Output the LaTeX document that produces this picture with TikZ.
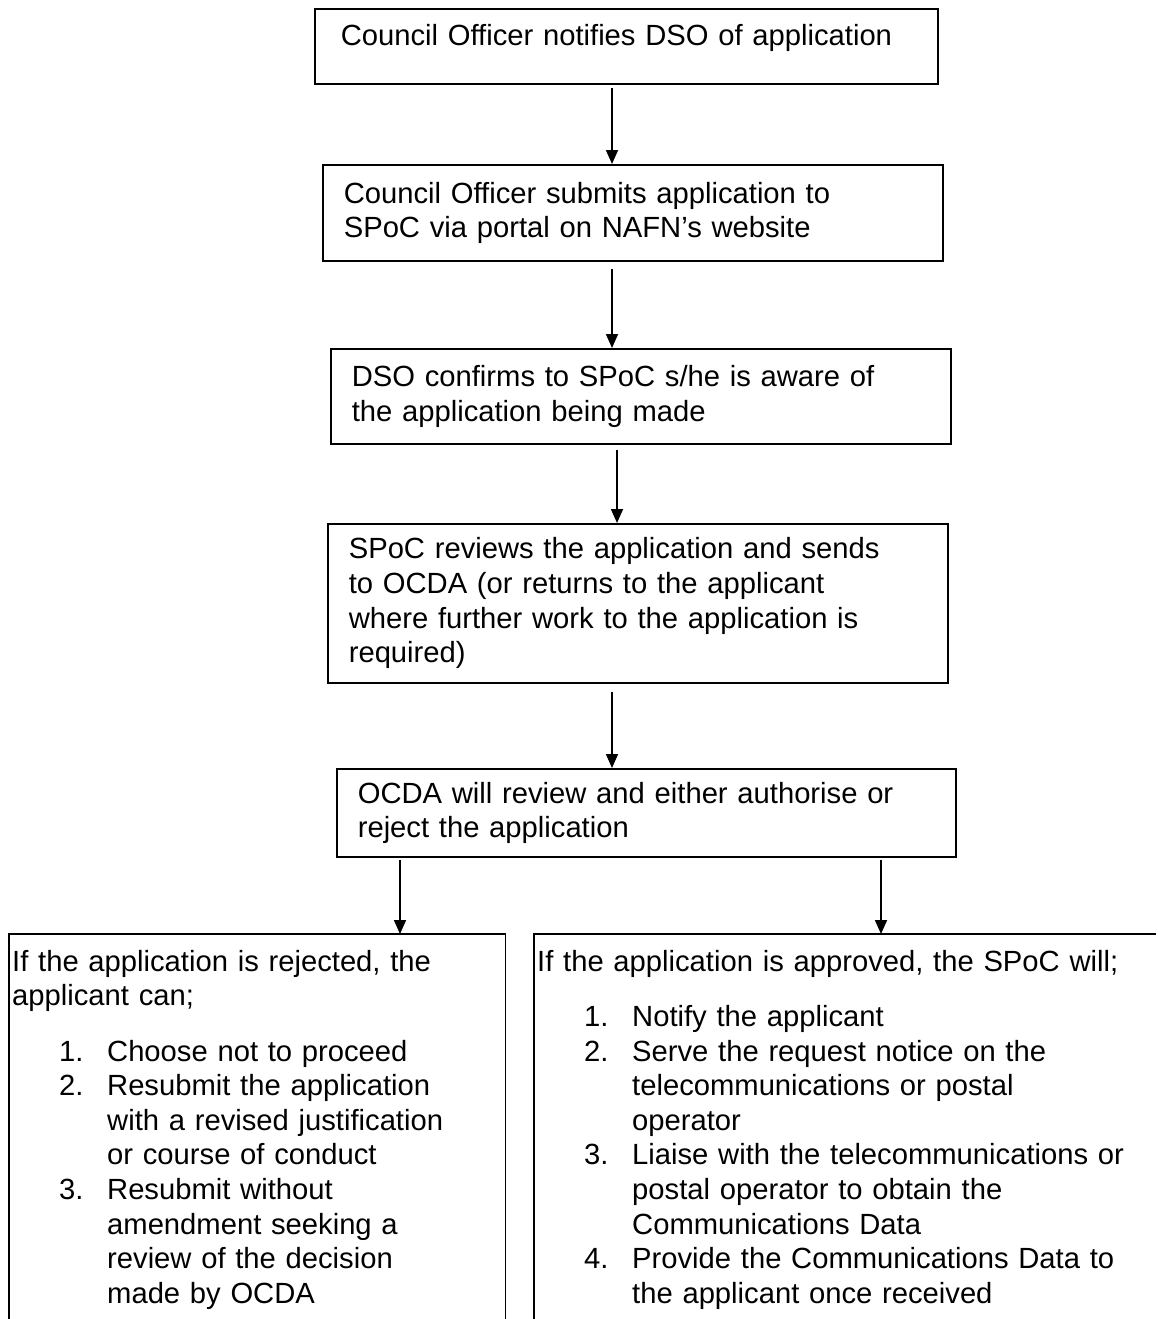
\documentclass[tikz,border=0pt]{standalone}
\usepackage{fontspec}
\setmainfont{Liberation Sans}
\usetikzlibrary{arrows.meta}
\tikzset{stepbox/.style={draw,line width=1.6pt,anchor=north west,align=left,inner xsep=21pt,inner ysep=0pt}}
\tikzset{listbox/.style={anchor=north west,align=left,inner xsep=3pt,inner ysep=16pt}}
\tikzset{flow/.style={line width=1.6pt,-{Triangle[width=12pt,length=14pt]}}}
\newcommand{\numitem}[1]{\hspace*{47pt}\makebox[48pt][l]{#1.}}
\newcommand{\contline}{\hspace*{95pt}}

\begin{document}
\begin{tikzpicture}[x=1pt,y=-1pt,font=\fontsize{29.2}{34.6}\selectfont]
      \useasboundingbox (0,0) rectangle (1160,1319);
      \node[stepbox,text width=571pt,inner xsep=26pt,minimum height=75pt,text height=21pt,text depth=23pt] (notify) at (314,8) {Council Officer notifies DSO of application};
      \node[stepbox,text width=578pt,minimum height=96pt] (submit) at (322,164) {Council Officer submits application to\\SPoC via portal on NAFN’s website};
      \node[stepbox,text width=578pt,minimum height=95pt] (confirm) at (330,348) {DSO confirms to SPoC s/he is aware of\\the application being made};
      \node[stepbox,text width=578pt,minimum height=159pt] (review) at (327,523) {SPoC reviews the application and sends\\to OCDA (or returns to the applicant\\where further work to the application is\\required)};
      \node[stepbox,text width=577pt,minimum height=88pt] (decide) at (336,768) {OCDA will review and either authorise or\\reject the application};
      \node[listbox,text width=490pt] (reject) at (9,934) {If the application is rejected, the\\applicant can;\\[20.6pt]
        \numitem{1}Choose not to proceed\\
        \numitem{2}Resubmit the application\\
        \contline with a revised justification\\
        \contline or course of conduct\\
        \numitem{3}Resubmit without\\
        \contline amendment seeking a\\
        \contline review of the decision\\
        \contline made by OCDA};
      \node[listbox,text width=616pt] (approve) at (534,934) {If the application is approved, the SPoC will;\\[20.6pt]
        \numitem{1}Notify the applicant\\
        \numitem{2}Serve the request notice on the\\
        \contline telecommunications or postal\\
        \contline operator\\
        \numitem{3}Liaise with the telecommunications or\\
        \contline postal operator to obtain the\\
        \contline Communications Data\\
        \numitem{4}Provide the Communications Data to\\
        \contline the applicant once received};
      \coordinate (floor) at (0,1319);
      \draw[line width=1.6pt] (reject.north west |- floor) -- (reject.north west) -- (reject.north east) -- (reject.north east |- floor);
      \draw[line width=1.6pt] (approve.north west |- floor) -- (approve.north west) -- (approve.north east);
      \foreach \a/\b/\x/\g in {notify/submit/612/3pt,submit/confirm/612/7pt,confirm/review/617/5pt,review/decide/612/8pt,decide/reject/400/2pt,decide/approve/881/2pt}
        \draw[flow,shorten <=\g] (\a.south -| \x,0) -- (\b.north -| \x,0);
\end{tikzpicture}
\end{document}
